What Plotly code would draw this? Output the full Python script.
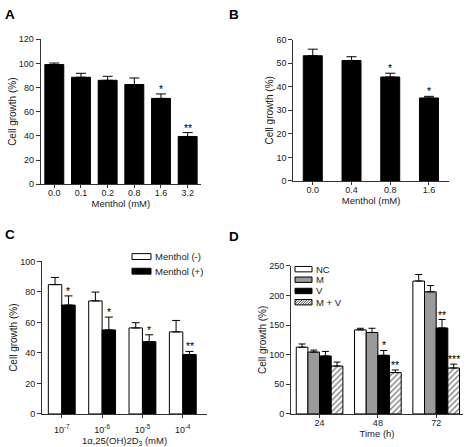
import plotly.graph_objects as go

# ---------------- data ----------------
a_labels = ["0.0", "0.1", "0.2", "0.8", "1.6", "3.2"]
a_vals = [99, 88.5, 86, 82.5, 71, 39.5]
a_err = [1.3, 3.3, 3.3, 5.4, 3.7, 3.2]
a_sig = ["", "", "", "", "*", "**"]

b_labels = ["0.0", "0.4", "0.8", "1.6"]
b_vals = [53.1, 51.1, 44.1, 35.2]
b_err = [2.8, 1.6, 1.6, 0.7]
b_sig = ["", "", "*", "*"]

c_labels = ["10<sup>-7</sup>", "10<sup>-6</sup>", "10<sup>-5</sup>", "10<sup>-4</sup>"]
c_names = ["Menthol (-)", "Menthol (+)"]
c_minus = [84.8, 74.1, 56.4, 53.8]
c_minus_err = [4.7, 5.8, 3.4, 7.5]
c_plus = [71.4, 55.1, 47.4, 38.9]
c_plus_err = [6.0, 8.4, 4.5, 2.1]
c_sig = ["*", "*", "*", "**"]

d_labels = ["24", "48", "72"]
d_names = ["NC", "M", "V", "M + V"]
d_nc = [112.6, 141.8, 224.2]
d_nc_err = [5.4, 2.7, 11.0]
d_m = [104.4, 137.4, 206.0]
d_m_err = [3.3, 7.1, 10.5]
d_v = [97.8, 98.9, 145.0]
d_v_err = [7.7, 8.2, 14.3]
d_mv = [80.8, 69.8, 77.5]
d_mv_err = [6.6, 4.4, 6.5]
d_v_sig = ["", "*", "**"]
d_mv_sig = ["", "**", "***"]

FONT = "Liberation Sans, Arial, sans-serif"
TXT = "#1a1a1a"
AX = "#333333"
GRAY = "#9a9a9a"
W, H = 468, 447

fig = go.Figure()


def px_x(p):
    return p / W


def px_y(p):
    return 1 - p / H


def err(e, w):
    return dict(type="data", array=e, arrayminus=[0] * len(e), symmetric=False,
                color="black", thickness=1, width=w, visible=True)


HATCH = dict(shape="/", fgcolor="black", bgcolor="white", size=4, solidity=0.35)


def add_bars(vals, errs, xa, ya, width, offset, color, name=None, pattern=None, cap=4):
    xs = list(range(len(vals)))
    marker = dict(color=color, line=dict(color="black", width=1))
    if pattern:
        marker["pattern"] = pattern
    fig.add_trace(go.Bar(
        x=xs, y=vals, width=width, offset=offset, marker=marker,
        error_y=err(errs, cap), xaxis=xa, yaxis=ya, name=name, showlegend=False))


def add_sig(vals, errs, sig, xa, ya, shift):
    for i, (v, e, s) in enumerate(zip(vals, errs, sig)):
        if s:
            fig.add_annotation(x=i + shift, y=v + e, text=s, xref=xa, yref=ya,
                               showarrow=False, yanchor="bottom", yshift=-3,
                               font=dict(size=10.5, color="black", family=FONT))


# Panel A
add_bars(a_vals, a_err, "x", "y", 0.71, -0.355, "black", cap=5)
add_sig(a_vals, a_err, a_sig, "x", "y", 0)
# Panel B
add_bars(b_vals, b_err, "x2", "y2", 0.49, -0.245, "black", cap=5)
add_sig(b_vals, b_err, b_sig, "x2", "y2", 0)
# Panel C
add_bars(c_minus, c_minus_err, "x3", "y3", 0.333, -0.333, "white", name=c_names[0], cap=4)
add_bars(c_plus, c_plus_err, "x3", "y3", 0.333, 0.0, "black", name=c_names[1], cap=4)
add_sig(c_plus, c_plus_err, c_sig, "x3", "y3", 0.1665)
# Panel D
add_bars(d_nc, d_nc_err, "x4", "y4", 0.2, -0.4, "white", name=d_names[0], cap=3.5)
add_bars(d_m, d_m_err, "x4", "y4", 0.2, -0.2, GRAY, name=d_names[1], cap=3.5)
add_bars(d_v, d_v_err, "x4", "y4", 0.2, 0.0, "black", name=d_names[2], cap=3.5)
add_bars(d_mv, d_mv_err, "x4", "y4", 0.2, 0.2, "white", name=d_names[3], cap=3.5,
         pattern=HATCH)
add_sig(d_v, d_v_err, d_v_sig, "x4", "y4", 0.1)
add_sig(d_mv, d_mv_err, d_mv_sig, "x4", "y4", 0.3)


# ---------------- manual legends ----------------
def legend_item(x0, yc, w, h, fill, label, hatch=False, fs=9):
    fig.add_shape(type="rect", xref="paper", yref="paper",
                  x0=px_x(x0), x1=px_x(x0 + w), y0=px_y(yc + h / 2), y1=px_y(yc - h / 2),
                  fillcolor=fill, line=dict(color="black", width=1))
    if hatch:
        step = 2.5
        segs = []
        k = -h
        while k < w:
            xa, xb = x0 + k, x0 + k + h
            ya, yb = yc + h / 2, yc - h / 2
            if xa < x0:
                ya = ya - (x0 - xa)
                xa = x0
            if xb > x0 + w:
                yb = yb + (xb - (x0 + w))
                xb = x0 + w
            if xb > xa:
                segs.append("M%.4f,%.4f L%.4f,%.4f" % (px_x(xa), px_y(ya), px_x(xb), px_y(yb)))
            k += step
        fig.add_shape(type="path", xref="paper", yref="paper", path=" ".join(segs),
                      line=dict(color="black", width=0.7))
    fig.add_annotation(text=label, x=px_x(x0 + w + 2), y=px_y(yc), xref="paper",
                       yref="paper", xanchor="left", yanchor="middle", showarrow=False,
                       font=dict(size=fs, color=TXT, family=FONT))


legend_item(132, 257.3, 19, 6, "white", c_names[0], fs=9.5)
legend_item(132, 272.3, 19, 6, "black", c_names[1], fs=9.5)
for nm, yc, fill, hat in zip(d_names, [270.2, 281, 292.5, 304],
                             ["white", GRAY, "black", "white"],
                             [False, False, False, True]):
    legend_item(295, yc, 17, 5.5, fill, nm, hatch=hat, fs=9.5)


def xdom(a, b):
    return [a / W, b / W]


def ydom(bot, top):
    return [1 - bot / H, 1 - top / H]


tickfont = dict(size=9, color=TXT, family=FONT)
titlefont = dict(size=9.5, color=TXT, family=FONT)
ytitlefont = dict(size=10, color=TXT, family=FONT)


def xax(dom, rng, labels, title, anchor, lso=-3, tso=0):
    return dict(domain=dom, range=rng, tickmode="array",
                tickvals=list(range(len(labels))), ticktext=labels,
                showline=True, linecolor=AX, linewidth=1, ticks="outside",
                ticklen=3, tickcolor=AX, tickfont=tickfont, showgrid=False,
                zeroline=False, anchor=anchor, fixedrange=True,
                ticklabelstandoff=lso,
                title=dict(text=title, font=titlefont, standoff=tso))


def yax(dom, rng, dtick, anchor):
    return dict(domain=dom, range=rng, dtick=dtick, showline=True, linecolor=AX,
                linewidth=1, ticks="outside", ticklen=4, tickcolor=AX,
                tickfont=tickfont, showgrid=False, zeroline=False, anchor=anchor,
                fixedrange=True,
                title=dict(text="Cell growth (%)", font=ytitlefont, standoff=0))


fig.update_layout(
    width=W, height=H, margin=dict(l=0, r=0, t=0, b=0),
    paper_bgcolor="white", plot_bgcolor="white", showlegend=False,
    barmode="overlay", font=dict(family=FONT, color=TXT),
    xaxis=xax(xdom(40.7, 201), [-0.51, 5.5], a_labels, "Menthol (mM)", "y"),
    yaxis=yax(ydom(183.3, 35), [0, 120], 20, "x"),
    xaxis2=xax(xdom(293.3, 449), [-0.503, 3.517], b_labels, "Menthol (mM)", "y2"),
    yaxis2=yax(ydom(180, 35.3), [0, 60], 10, "x2"),
    xaxis3=xax(xdom(42, 207), [-0.49, 3.6], c_labels,
               "1α,25(OH)2D<sub>3</sub> (mM)", "y3", lso=4, tso=3),
    yaxis3=yax(ydom(418.3, 262.3), [0, 100], 20, "x3"),
    xaxis4=xax(xdom(291, 463), [-0.49, 2.46], d_labels, "Time (h)", "y4"),
    yaxis4=yax(ydom(418.3, 266.7), [0, 250], 50, "x4"),
)

for txt, px, py in [("A", 3, 10), ("B", 227, 10), ("C", 3, 235), ("D", 227, 237)]:
    fig.add_annotation(text="<b>%s</b>" % txt, x=px_x(px), y=px_y(py), xref="paper",
                       yref="paper", xanchor="left", yanchor="middle", showarrow=False,
                       font=dict(size=13.5, color="black", family=FONT))

fig.write_html("out.html", config={"displayModeBar": False},
               post_script="document.body.style.margin='0';")
